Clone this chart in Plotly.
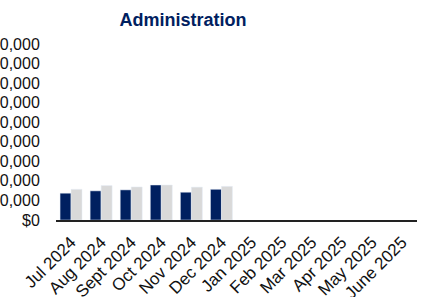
import plotly.graph_objects as go

months = ["Jul 2024", "Aug 2024", "Sept 2024", "Oct 2024", "Nov 2024", "Dec 2024",
          "Jan 2025", "Feb 2025", "Mar 2025", "Apr 2025", "May 2025", "June 2025"]
actual = [13700, 14900, 15400, 17900, 14200, 15700, None, None, None, None, None, None]
budget = [15700, 17600, 16900, 17900, 16800, 17200, None, None, None, None, None, None]

fig = go.Figure()
fig.add_trace(go.Bar(x=months, y=actual, name="Actual", marker_color="#002060"))
fig.add_trace(go.Bar(x=months, y=budget, name="Budget", marker_color="#D9D9D9"))

fig.update_layout(
    width=425, height=297,
    margin=dict(l=56, r=8, t=44, b=77),
    paper_bgcolor="white", plot_bgcolor="white",
    showlegend=False,
    barmode="group", bargap=0.27, bargroupgap=0,
    font=dict(family="Liberation Sans, Arial, sans-serif", size=16, color="#111111"),
    title=dict(text="<b>Administration</b>", x=183/425, xanchor="center",
               y=1 - 20/297, yanchor="middle",
               font=dict(size=18, color="#002060")),
)
fig.update_xaxes(tickangle=-45, showline=True, linecolor="#222222", linewidth=1.5,
                 showgrid=False, ticks="outside", ticklen=4, tickcolor="rgba(0,0,0,0)",
                 automargin=False, tickfont=dict(size=17))
fig.update_yaxes(range=[0, 90000], dtick=10000, tickprefix="$", tickformat=",",
                 showgrid=False, showline=False, zeroline=False, automargin=False,
                 ticks="outside", ticklen=12, tickcolor="rgba(0,0,0,0)",
                 tickfont=dict(size=16))

fig.write_html("out.html", config={"displayModeBar": False},
               post_script="document.body.style.margin='0';document.body.style.overflow='hidden';")
